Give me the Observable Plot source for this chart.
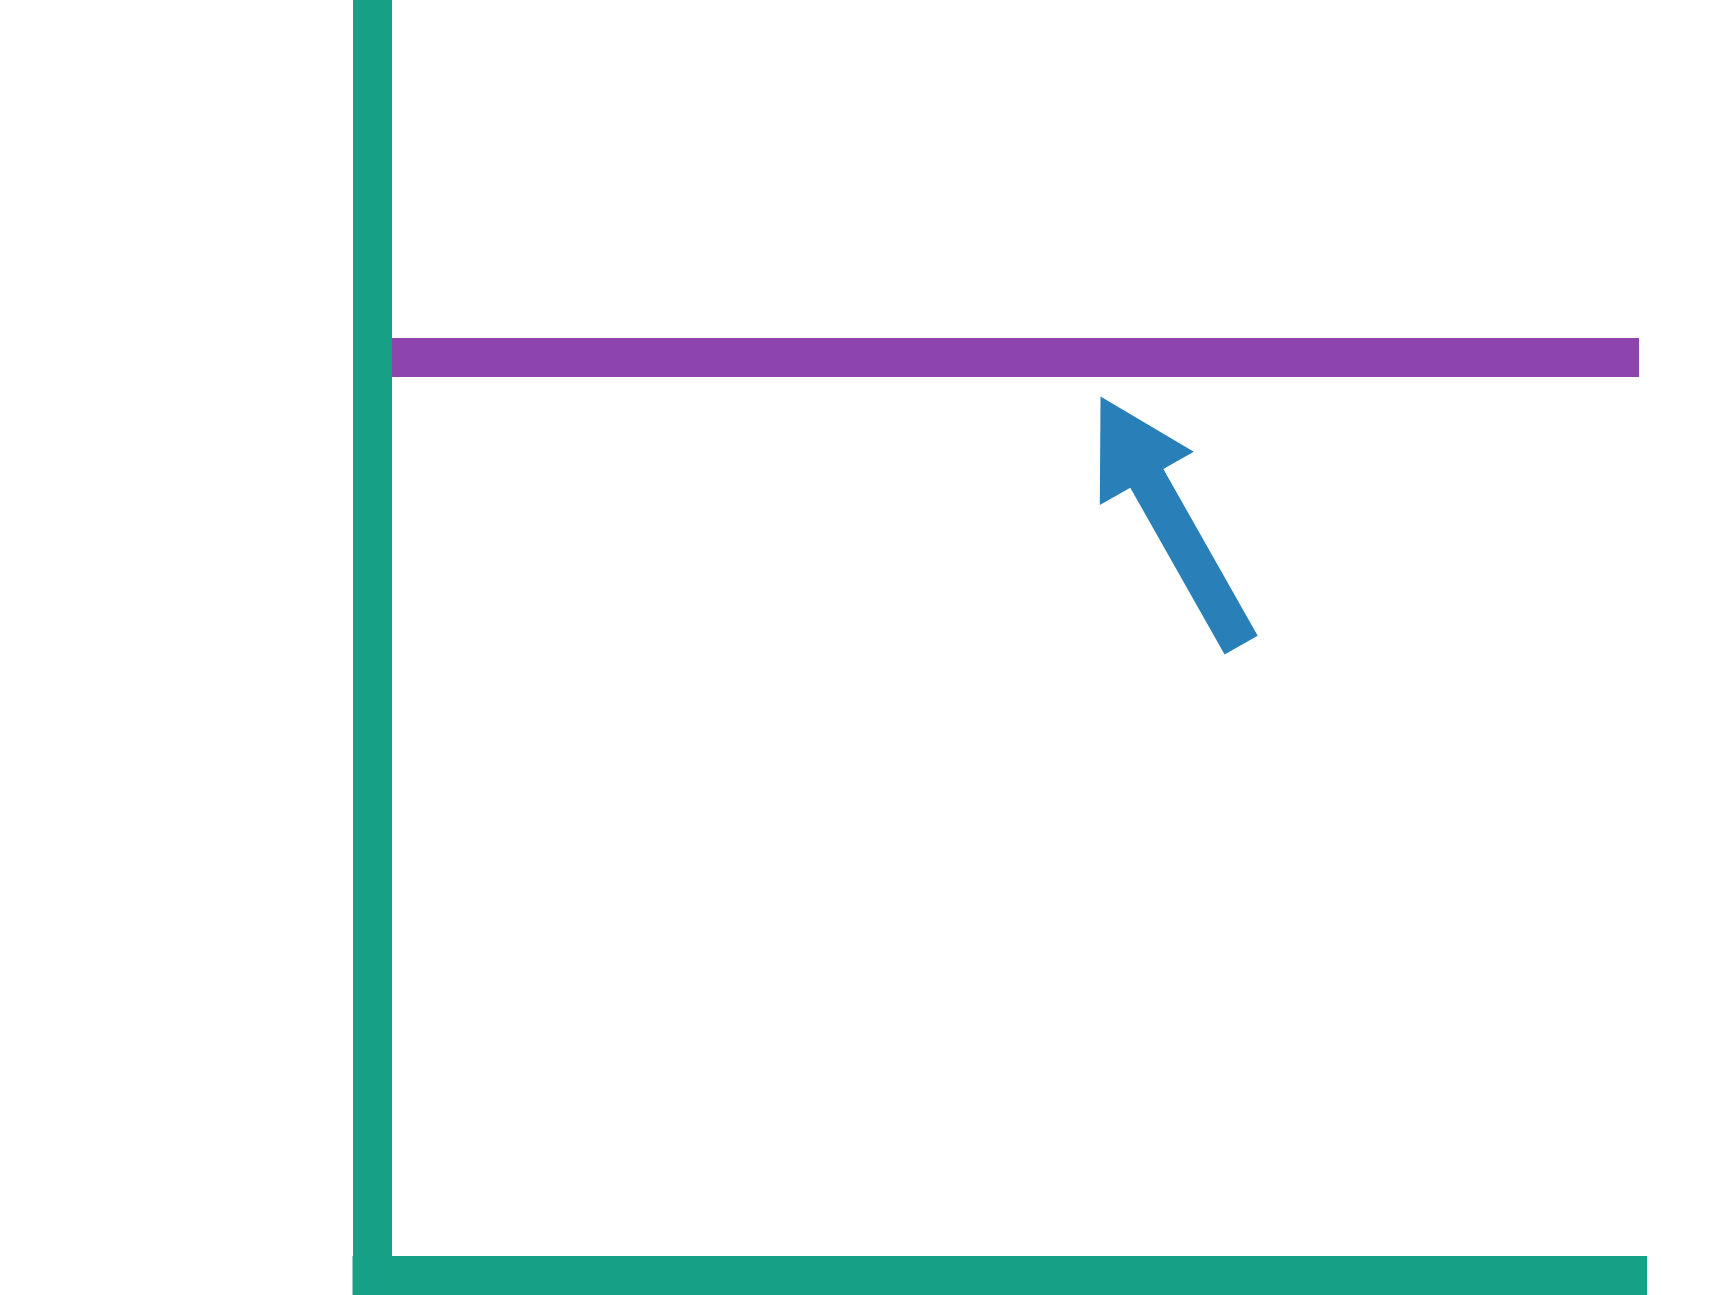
<!DOCTYPE html>
<html>
<head>
<meta charset="utf-8">
<script src="https://cdn.jsdelivr.net/npm/d3@7"></script>
<script src="https://cdn.jsdelivr.net/npm/@observablehq/plot@0.6"></script>
<style>
  html, body { margin: 0; padding: 0; background: #ffffff; }
  #chart svg { display: block; }
</style>
</head>
<body>
<div id="chart"></div>
<script>
// ---- data (axes units: x 0..1 left→right, y 0..1 bottom→top) ----
const spineLeft = [{x: 0, y1: 0, y2: 1}];
const spineBottom = [{y: 0, x1: 0, x2: 0.991}];
const hLine = [{y: 0.72, x1: 0, x2: 1}];
const arrowTail = [{x: 0.686, y: 0.494}];
const arrowTip = [{x: 0.575, y: 0.689}];

const arrows = arrowTail.map((t, i) => ({x1: t.x, y1: t.y, x2: arrowTip[i].x, y2: arrowTip[i].y}));

const GREEN = "#16a085", PURPLE = "#8e44ad", BLUE = "#2980b9";
const LW = 39;
const SHAFT_W = 38, HEAD_W = 108, HEAD_L = 94;

function arrowRender(index, scales, values) {
  const g = d3.create("svg:g");
  for (const i of index) {
    const x1 = values.x1[i], y1 = values.y1[i], x2 = values.x2[i], y2 = values.y2[i];
    const dx = x2 - x1, dy = y2 - y1, L = Math.hypot(dx, dy);
    const ux = dx / L, uy = dy / L, px = -uy, py = ux;
    const bx = x2 - ux * HEAD_L, by = y2 - uy * HEAD_L;
    const w = SHAFT_W / 2, h = HEAD_W / 2;
    const pts = [
      [x1 + px * w, y1 + py * w],
      [bx + px * w, by + py * w],
      [bx + px * h, by + py * h],
      [x2, y2],
      [bx - px * h, by - py * h],
      [bx - px * w, by - py * w],
      [x1 - px * w, y1 - py * w]
    ];
    g.append("path")
      .attr("d", "M" + pts.map(p => p.join(",")).join("L") + "Z")
      .attr("fill", BLUE)
      .attr("stroke", "none");
  }
  return g.node();
}

const chart = Plot.plot({
  width: 1718,
  height: 1295,
  marginLeft: 372,
  marginRight: 79,
  marginTop: 0,
  marginBottom: 20,
  style: {background: "#ffffff", overflow: "hidden"},
  x: {domain: [0, 1], axis: null},
  y: {domain: [0, 1], axis: null},
  marks: [
    Plot.ruleY(hLine, {y: "y", x1: "x1", x2: "x2", stroke: PURPLE, strokeWidth: LW, strokeLinecap: "butt"}),
    Plot.ruleX(spineLeft, {x: "x", y1: "y1", y2: "y2", stroke: GREEN, strokeWidth: LW, strokeLinecap: "square"}),
    Plot.ruleY(spineBottom, {y: "y", x1: "x1", x2: "x2", stroke: GREEN, strokeWidth: LW, strokeLinecap: "square"}),
    Plot.link(arrows, {x1: "x1", y1: "y1", x2: "x2", y2: "y2", stroke: BLUE, strokeWidth: SHAFT_W, render: arrowRender})
  ]
});
document.getElementById("chart").appendChild(chart);
</script>
</body>
</html>
